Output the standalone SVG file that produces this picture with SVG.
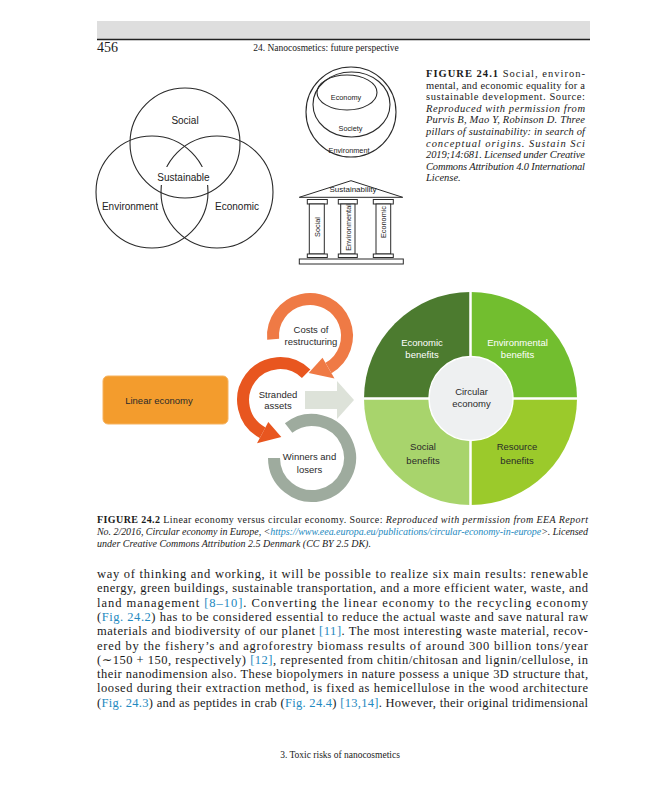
<svg xmlns="http://www.w3.org/2000/svg" width="648" height="800" viewBox="0 0 648 800">
<style>
.serif{font-family:"Liberation Serif","DejaVu Serif",serif;fill:#1a1a1a}
.sans{font-family:"Liberation Sans",Arial,sans-serif}
.ln{fill:none;stroke:#2a2a2a;stroke-width:1.1}
.tp{fill:#fff;stroke:#2a2a2a;stroke-width:1}
.body{font-size:12.5px}
.cap{font-size:10px}
.cap1{font-size:10.5px}
.it{font-style:italic}
.b{font-weight:bold}
.link{fill:#2389c0}
.venn{font-size:10px;fill:#222;text-anchor:middle}
.small{font-size:7.3px;fill:#222;text-anchor:middle}
.lbl{font-size:9.5px;fill:#2a2a2a;text-anchor:middle}
.wl{font-size:9.5px;fill:#fff;text-anchor:middle}
</style>
<rect width="648" height="800" fill="#fff"/>
<g id="header">
<rect x="97" y="21" width="493" height="18" fill="#dedede"/>
<line x1="97" y1="39.5" x2="590" y2="39.5" stroke="#222" stroke-width="1.6"/>
<text x="97" y="52" class="serif" font-size="14">456</text>
<text x="326" y="51" class="serif" font-size="9.5" text-anchor="middle">24. Nanocosmetics: future perspective</text>
</g>
<g id="venn">
<circle cx="185" cy="143" r="55" class="ln"/>
<circle cx="152" cy="192" r="56" class="ln"/>
<circle cx="217" cy="192" r="56" class="ln"/>
<rect x="156" y="167" width="55" height="18" fill="#fff"/>
<text x="185" y="124" class="sans venn">Social</text>
<text x="183.5" y="180.5" class="sans venn">Sustainable</text>
<text x="130" y="209.5" class="sans venn">Environment</text>
<text x="237" y="209.5" class="sans venn">Economic</text>
</g>
<g id="nested">
<circle cx="351" cy="112" r="45" class="ln"/>
<ellipse cx="351.5" cy="104.5" rx="38.5" ry="32.5" class="ln"/>
<ellipse cx="347" cy="92.5" rx="30" ry="17.5" class="ln"/>
<text x="346" y="99.5" class="sans small">Economy</text>
<text x="350.5" y="131" class="sans small">Society</text>
<text x="349" y="153" class="sans small">Environment</text>
</g>
<g id="temple">
<polygon points="351,180.7 299.3,197.3 402.7,197.3" class="tp"/>
<text x="353" y="192" class="sans" font-size="8" fill="#222" text-anchor="middle">Sustainability</text>
<rect x="307.3" y="199.5" width="20" height="4.5" class="tp"/>
<rect x="338.3" y="199.5" width="19" height="4.5" class="tp"/>
<rect x="373.3" y="199.5" width="20" height="4.5" class="tp"/>
<rect x="309.3" y="204" width="15" height="50" class="tp"/>
<rect x="340.7" y="204" width="14.3" height="50" class="tp"/>
<rect x="376" y="204" width="14.7" height="50" class="tp"/>
<rect x="307.3" y="254" width="20" height="3.5" class="tp"/>
<rect x="338.3" y="254" width="19" height="3.5" class="tp"/>
<rect x="373.3" y="254" width="20" height="3.5" class="tp"/>
<rect x="299.3" y="259" width="104" height="5" class="tp"/>
<text transform="translate(319.8,227) rotate(-90)" class="sans small">Social</text>
<text transform="translate(350.5,227.5) rotate(-90)" class="sans small">Environmental</text>
<text transform="translate(386,222) rotate(-90)" class="sans small">Economic</text>
</g>
<g id="caption1" class="serif cap1">
<text x="426" y="77" textLength="159" lengthAdjust="spacing"><tspan class="b">FIGURE 24.1</tspan> Social, environ-</text>
<text x="426" y="88.6" textLength="159" lengthAdjust="spacing">mental, and economic equality for a</text>
<text x="426" y="100.2" textLength="159" lengthAdjust="spacing">sustainable development. Source:</text>
<text x="426" y="111.8" textLength="159" lengthAdjust="spacing" class="it">Reproduced with permission from</text>
<text x="426" y="123.4" textLength="159" lengthAdjust="spacing" class="it">Purvis B, Mao Y, Robinson D. Three</text>
<text x="426" y="135" textLength="159" lengthAdjust="spacing" class="it">pillars of sustainability: in search of</text>
<text x="426" y="146.6" textLength="159" lengthAdjust="spacing" class="it">conceptual origins. Sustain Sci</text>
<text x="426" y="158.2" textLength="159" lengthAdjust="spacing" class="it">2019;14:681. Licensed under Creative</text>
<text x="426" y="169.8" textLength="159" lengthAdjust="spacing" class="it">Commons Attribution 4.0 International</text>
<text x="426" y="181.4" class="it">License.</text>
</g>
<g id="linear-economy">
<rect x="103" y="376" width="125" height="48" rx="5" fill="#f39c2d" stroke="#f6b25e" stroke-width="1"/>
<text x="159" y="403.5" class="sans lbl">Linear economy</text>
</g>
<g id="connectors">
<path d="M305,391 H337 V381 L354,400 L337,419 V409 H305 Z" fill="#dde2d9"/>
<path d="M288.6,428.05 A38,38 0 1 1 274,458" fill="none" stroke="#9eab9e" stroke-width="12"/>
<path d="M306.16,373.84 A37,37 0 1 0 262.6,432.7" fill="none" stroke="#e8561f" stroke-width="12"/>
<polygon points="257,443.3 268.3,422.1 281.3,437" fill="#e8561f"/>
<path d="M273.14,339.22 A37,37 0 1 1 328.5,368.04" fill="none" stroke="#ef7a45" stroke-width="12"/>
<polygon points="334.5,378.4 322.5,357.65 308.7,373" fill="#ef7a45"/>
</g>
<g id="costs-of-restructuring">
<text x="311" y="332.5" class="sans lbl">Costs of</text>
<text x="311" y="345" class="sans lbl">restructuring</text>
</g>
<g id="stranded-assets">
<text x="278" y="397.5" class="sans lbl">Stranded</text>
<text x="278" y="408.5" class="sans lbl">assets</text>
</g>
<g id="winners-and-losers">
<text x="309.5" y="460" class="sans lbl">Winners and</text>
<text x="309.5" y="472.5" class="sans lbl">losers</text>
</g>
<g id="circular-economy">
<path d="M470.5,398.5 L364,398.5 A106.5,106.5 0 0 1 470.5,292 Z" fill="#4c7b2f"/>
<path d="M470.5,398.5 L470.5,292 A106.5,106.5 0 0 1 577,398.5 Z" fill="#72be2f"/>
<path d="M470.5,398.5 L577,398.5 A106.5,106.5 0 0 1 470.5,505 Z" fill="#9bca2b"/>
<path d="M470.5,398.5 L470.5,505 A106.5,106.5 0 0 1 364,398.5 Z" fill="#a8d46c"/>
<path d="M470.5,290 V507 M362,398.5 H579" stroke="#fff" stroke-width="2.5"/>
<circle cx="471" cy="398.5" r="42" fill="#eef0f1" stroke="#fff" stroke-width="1.5"/>
<text x="422" y="346" class="sans wl">Economic</text>
<text x="422" y="357.5" class="sans wl">benefits</text>
<text x="517.5" y="346" class="sans wl">Environmental</text>
<text x="517.5" y="357.5" class="sans wl">benefits</text>
<text x="423" y="450" class="sans lbl">Social</text>
<text x="423" y="463.5" class="sans lbl">benefits</text>
<text x="517" y="450" class="sans lbl">Resource</text>
<text x="517" y="463.5" class="sans lbl">benefits</text>
<text x="471.5" y="395" class="sans lbl">Circular</text>
<text x="471.5" y="406.5" class="sans lbl">economy</text>
</g>
<g id="caption2" class="serif cap">
<text x="97" y="523" textLength="491" lengthAdjust="spacing"><tspan class="b">FIGURE 24.2</tspan>   Linear economy versus circular economy. Source: <tspan class="it">Reproduced with permission from EEA Report</tspan></text>
<text x="97" y="535" textLength="491" lengthAdjust="spacing" class="it">No. 2/2016, Circular economy in Europe, &lt;<tspan class="link">https://www.eea.europa.eu/publications/circular-economy-in-europe</tspan>&gt;. Licensed</text>
<text x="97" y="546.5" class="it">under Creative Commons Attribution 2.5 Denmark (CC BY 2.5 DK).</text>
</g>
<g id="body" class="serif body">
<text x="97" y="578" textLength="491" lengthAdjust="spacing">way of thinking and working, it will be possible to realize six main results: renewable</text>
<text x="97" y="592.3" textLength="491" lengthAdjust="spacing">energy, green buildings, sustainable transportation, and a more efficient water, waste, and</text>
<text x="97" y="606.6" textLength="491" lengthAdjust="spacing">land management <tspan class="link">[8–10]</tspan>. Converting the linear economy to the recycling economy</text>
<text x="97" y="620.9" textLength="491" lengthAdjust="spacing">(<tspan class="link">Fig. 24.2</tspan>) has to be considered essential to reduce the actual waste and save natural raw</text>
<text x="97" y="635.2" textLength="491" lengthAdjust="spacing">materials and biodiversity of our planet <tspan class="link">[11]</tspan>. The most interesting waste material, recov-</text>
<text x="97" y="649.5" textLength="491" lengthAdjust="spacing">ered by the fishery’s and agroforestry biomass results of around 300 billion tons/year</text>
<text x="97" y="663.8" textLength="491" lengthAdjust="spacing">(∼150 + 150, respectively) <tspan class="link">[12]</tspan>, represented from chitin/chitosan and lignin/cellulose, in</text>
<text x="97" y="678.1" textLength="491" lengthAdjust="spacing">their nanodimension also. These biopolymers in nature possess a unique 3D structure that,</text>
<text x="97" y="692.4" textLength="491" lengthAdjust="spacing">loosed during their extraction method, is fixed as hemicellulose in the wood architecture</text>
<text x="97" y="706.7" textLength="491" lengthAdjust="spacing">(<tspan class="link">Fig. 24.3</tspan>) and as peptides in crab (<tspan class="link">Fig. 24.4</tspan>) <tspan class="link">[13,14]</tspan>. However, their original tridimensional</text>
</g>
<g id="footer">
<text x="340" y="758" class="serif" font-size="9.5" text-anchor="middle">3. Toxic risks of nanocosmetics</text>
</g>
</svg>
